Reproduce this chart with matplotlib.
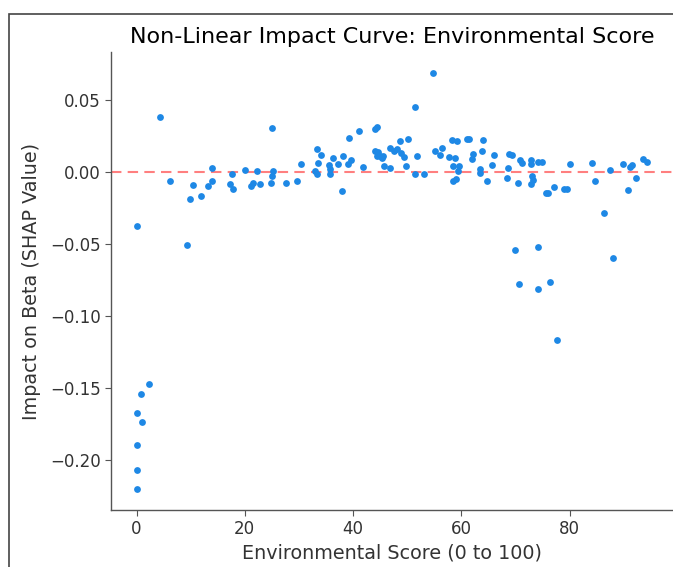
import matplotlib
matplotlib.use("Agg")
import matplotlib.pyplot as plt
from matplotlib.patches import Rectangle

env_score = [
    0.0, 0.0, 0.0, 0.0, 0.0, 0.74, 1.1, 2.3, 4.37, 6.27, 9.35, 9.96, 10.5, 11.9,
    13.2, 13.96, 14.0, 17.3, 17.65, 17.8, 20.1, 21.2, 21.6, 22.2, 22.9, 24.8,
    25.0, 25.1, 25.3, 27.7, 29.6, 30.3, 33.0, 33.3, 33.3, 33.6, 34.1, 35.6,
    35.7, 35.7, 36.3, 37.2, 37.95, 38.1, 39.0, 39.2, 39.7, 41.1, 41.8, 44.0,
    44.0, 44.4, 44.4, 44.6, 45.0, 45.4, 45.6, 45.7, 46.8, 46.8, 47.5, 48.2,
    48.7, 48.8, 49.4, 49.7, 50.2, 51.4, 51.5, 51.8, 53.2, 54.7, 55.2, 56.1,
    56.5, 57.7, 58.2, 58.4, 58.4, 58.8, 59.1, 59.2, 59.4, 59.6, 61.1, 61.4,
    62.0, 62.2, 63.5, 63.5, 63.8, 64.1, 64.7, 65.7, 66.0, 68.5, 68.7, 68.9,
    69.4, 70.0, 70.4, 70.7, 70.8, 71.2, 72.8, 72.8, 72.9, 73.1, 73.3, 74.1,
    74.2, 74.2, 75.0, 75.7, 75.95, 76.4, 77.2, 77.7, 79.0, 79.5, 80.0, 84.2,
    84.7, 86.3, 87.5, 88.1, 89.9, 90.8, 91.1, 91.6, 92.3, 93.5, 94.4,
]
shap_value = [
    -0.0373, -0.1674, -0.190, -0.207, -0.2204, -0.1544, -0.1734, -0.147, 0.0384,
    -0.006, -0.0509, -0.0188, -0.0093, -0.0167, -0.0097, -0.0065, 0.0028,
    -0.0086, -0.0014, -0.012, 0.0014, -0.0097, -0.0076, 0.0009, -0.0083,
    -0.0076, -0.003, 0.0303, 0.0005, -0.0076, -0.0065, 0.0053, 0.0005, 0.016,
    -0.0016, 0.0062, 0.012, 0.0046, 0.0023, -0.0014, 0.0093, 0.0056, -0.0132,
    0.0109, 0.0053, 0.0234, 0.0083, 0.0287, 0.0037, 0.0296, 0.0148, 0.0315,
    0.0113, 0.0137, 0.0109, 0.0099, 0.0111, 0.0042, 0.0028, 0.0167, 0.0148,
    0.0157, 0.0211, 0.013, 0.0104, 0.004, 0.0229, 0.0451, -0.0014, 0.0113,
    -0.0012, 0.0688, 0.0146, 0.0118, 0.0167, 0.0102, 0.0222, 0.0044, -0.0063,
    0.0095, -0.0051, 0.0211, 0.0009, 0.0044, 0.0229, 0.0225, 0.0088, 0.0123,
    0.0021, -0.0005, 0.0146, 0.0218, -0.0065, 0.0046, 0.012, -0.0044, 0.003,
    0.0127, 0.0118, -0.0542, -0.0074, -0.0778, 0.0083, 0.0065, 0.0083, -0.0083,
    0.0056, -0.0032, -0.0056, -0.052, 0.0069, -0.0817, 0.0072, -0.015, -0.0144,
    -0.0766, -0.0106, -0.1171, -0.0118, -0.0118, 0.0056, 0.006, -0.0063,
    -0.0283, 0.0014, -0.0597, 0.0053, -0.0125, 0.0037, 0.0049, -0.0042, 0.009,
    0.0067,
]

title = "Non-Linear Impact Curve: Environmental Score"
xlabel = "Environmental Score (0 to 100)"
ylabel = "Impact on Beta (SHAP Value)"

fig = plt.figure(figsize=(6.73, 5.67), dpi=100)
fig.patches.append(Rectangle((9 / 673, -0.5), 2.0, 1 - 14 / 567 + 0.5,
                             transform=fig.transFigure, fill=False,
                             edgecolor="#444444", linewidth=1.2))
ax = fig.add_axes([111 / 673, 57 / 567, (673 - 111) / 673, (510 - 52) / 567])

ax.scatter(env_score, shap_value, s=24, color="#1E88E5", linewidths=0, zorder=3)
ax.axhline(0, color="red", alpha=0.5, linestyle="--", linewidth=1.5, dashes=(5, 3), zorder=2)

ax.set_title(title, fontsize=16, color="black", pad=6.5)
ax.set_xlabel(xlabel, fontsize=13.75, color="#333333", labelpad=4)
ax.set_ylabel(ylabel, fontsize=13.75, color="#333333", labelpad=6)
ax.set_xticks([0, 20, 40, 60, 80])
ax.set_yticks([-0.20, -0.15, -0.10, -0.05, 0.00, 0.05])
ax.tick_params(labelsize=12, colors="#333333", length=4)
ax.tick_params(axis="both", color="#555555")
for s in ("top", "right"):
    ax.spines[s].set_visible(False)
for s in ("left", "bottom"):
    ax.spines[s].set_color("#555555")
    ax.spines[s].set_linewidth(1.0)

fig.savefig("out.png", dpi=100)
